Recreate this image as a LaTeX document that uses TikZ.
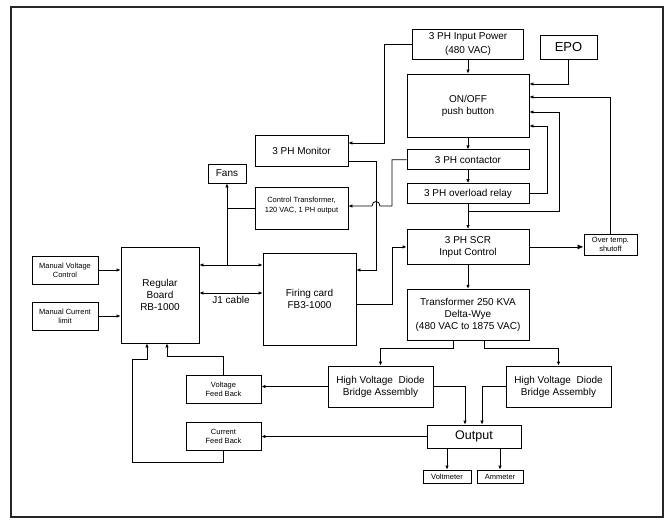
\documentclass[tikz,border=0pt]{standalone}
\usepackage{fontspec}
\setmainfont{Liberation Sans}
\usetikzlibrary{arrows.meta,positioning}

\begin{document}
\begin{tikzpicture}[
    x=1pt, y=-1pt,
    box/.style 2 args={rectangle, draw, line width=0.8pt, minimum width=#1, minimum height=#2, inner sep=1pt, align=center, font=\fontsize{10}{12}\selectfont},
    note/.style={font=\fontsize{7.5}{9}\selectfont},
    arrow/.style={-{Latex[length=4pt,width=3.5pt]}, line width=0.8pt},
    twoway/.style={{Latex[length=4pt,width=3.5pt]}-{Latex[length=4pt,width=3.5pt]}, line width=0.8pt},
    wire/.style={line width=0.8pt}
]
    \useasboundingbox (0,0) rectangle (671,523);
    \draw [line width=2.8pt, black!85] (11,7) rectangle (663,517);

    % power chain
    \node [box={111pt}{30pt}, font=\fontsize{10}{14}\selectfont] (inpower) at (468,44) {3 PH Input Power\\(480 VAC)};
    \node [box={57pt}{24pt}, font=\fontsize{13}{15}\selectfont] (epo) at (568.5,47) {EPO};
    \node [box={122pt}{63pt}] (onoff) at (468,105.5) {ON/OFF\\push button};
    \node [box={122pt}{20pt}, below=12pt of onoff] (contactor) {3 PH contactor};
    \node [box={122pt}{20pt}, below=13pt of contactor] (overload) {3 PH overload relay};
    \node [box={122pt}{35pt}, below=25pt of overload] (scr) {3 PH SCR\\Input Control};
    \node [box={53pt}{21pt}, note] (overtemp) at (610.5,244.5) {Over temp.\\shutoff};
    \node [box={122pt}{51pt}, below=24pt of scr] (xfmr) {Transformer 250 KVA\\Delta-Wye\\(480 VAC to 1875 VAC)};
    \node [box={105pt}{41pt}] (hvleft) at (380.5,386.5) {High Voltage \ Diode\\Bridge Assembly};
    \node [box={105pt}{41pt}] (hvright) at (558.5,386.5) {High Voltage \ Diode\\Bridge Assembly};
    \node [box={94pt}{23pt}, font=\fontsize{12.5}{14}\selectfont] (output) at (474,436.5) {Output};
    \node [box={48pt}{13pt}, note] (voltmeter) at (447,476.5) {Voltmeter};
    \node [box={46pt}{13pt}, note] (ammeter) at (500,476.5) {Ammeter};

    % control side
    \node [box={93pt}{31pt}] (monitor) at (301.5,150.5) {3 PH Monitor};
    \node [box={38pt}{19pt}] (fans) at (227,173.5) {Fans};
    \node [box={93pt}{42pt}, font=\fontsize{7.5}{10}\selectfont, text depth=6pt] (ctrlxf) at (301.5,208) {Control Transformer,\\120 VAC, 1 PH output};
    \node [box={93pt}{92pt}] (firing) at (309.5,299) {Firing card\\FB3-1000};
    \node [box={78pt}{96pt}] (board) at (160,295) {Regular\\Board\\RB-1000};
    \node [box={66pt}{28pt}, note] (manvolt) at (65,270) {Manual Voltage\\Control};
    \node [box={66pt}{28pt}, note] (mancurr) at (65,316) {Manual Current\\limit};
    \node [box={75pt}{28pt}, note] (voltfb) at (223.5,389) {Voltage\\Feed Back};
    \node [box={75pt}{28pt}, note] (currfb) at (223.5,436.5) {Current\\Feed Back};

    \coordinate (tap) at (468,211);
    \coordinate (fantap) at (227,265);

    \draw [arrow] (inpower) -- (onoff);
    \draw [arrow] (onoff) -- (contactor);
    \draw [arrow] (contactor) -- (overload);
    \draw [arrow] (overload) -- (scr);
    \draw [arrow] (scr) -- (xfmr);
    \draw [arrow] (epo.south) |- (onoff.east |- 0,84);
    \draw [arrow] (overtemp.north) |- (onoff.east |- 0,97);
    \draw [arrow] (overload.east) -- ++(18,0) |- (onoff.east |- 0,126);
    \draw [arrow] (tap) -- (559,211) |- (onoff.east |- 0,112);
    \draw [line width=0.8pt, -{Latex[length=6pt,width=5pt]}] (scr.east) -- (overtemp.west |- scr.east);
    \draw [arrow] (inpower.west) -- ++(-28,0) |- (monitor.east |- 0,143);
    \draw [arrow] ([xshift=-15pt]xfmr.south) -- ++(0,8) -| (hvleft.north);
    \draw [arrow] ([xshift=16pt]xfmr.south) -- ++(0,8) -| (hvright.north);
    \draw [arrow] (hvleft.east) -| ([xshift=-9pt]output.north);
    \draw [arrow] (hvright.west) -| ([xshift=8pt]output.north);
    \draw [arrow] (output.south -| voltmeter.north) -- (voltmeter.north);
    \draw [arrow] (output.south -| ammeter.north) -- (ammeter.north);
    \draw [arrow] (output.west) -- (currfb.east);
    \draw [arrow] (hvleft.west) -- (voltfb.east |- hvleft.west);
    \draw [arrow] (voltfb.north) -- ++(0,-18) -| ([xshift=7pt]board.south);
    \draw [arrow] (currfb.south) -- ++(0,11) -| (132,359) -| ([xshift=-13pt]board.south);
    \draw [arrow] (manvolt.east) -- (board.west |- manvolt.east);
    \draw [arrow] (mancurr.east) -- (board.west |- mancurr.east);
    \draw [twoway] (board.east |- 0,265) -- (firing.west |- 0,265);
    \draw [twoway] (board.east |- 0,293) -- node [below, font=\fontsize{10}{12}\selectfont] {J1 cable} (firing.west |- 0,293);
    \draw [arrow] (fantap) -- (fans.south);
    \draw [wire] (ctrlxf.west) -- (fans.south |- ctrlxf.west);
    \draw [arrow] (monitor.east |- 0,161) -| (376,270) -- (firing.east |- 0,270);
    \draw [arrow] (contactor.west) -| (392,206) -- (380,206) .. controls (380,200) and (372,200) .. (372,206) -- (ctrlxf.east |- 0,206);
    \draw [arrow] (firing.east |- 0,304) -- (392,304) |- (scr.west);
\end{tikzpicture}
\end{document}
